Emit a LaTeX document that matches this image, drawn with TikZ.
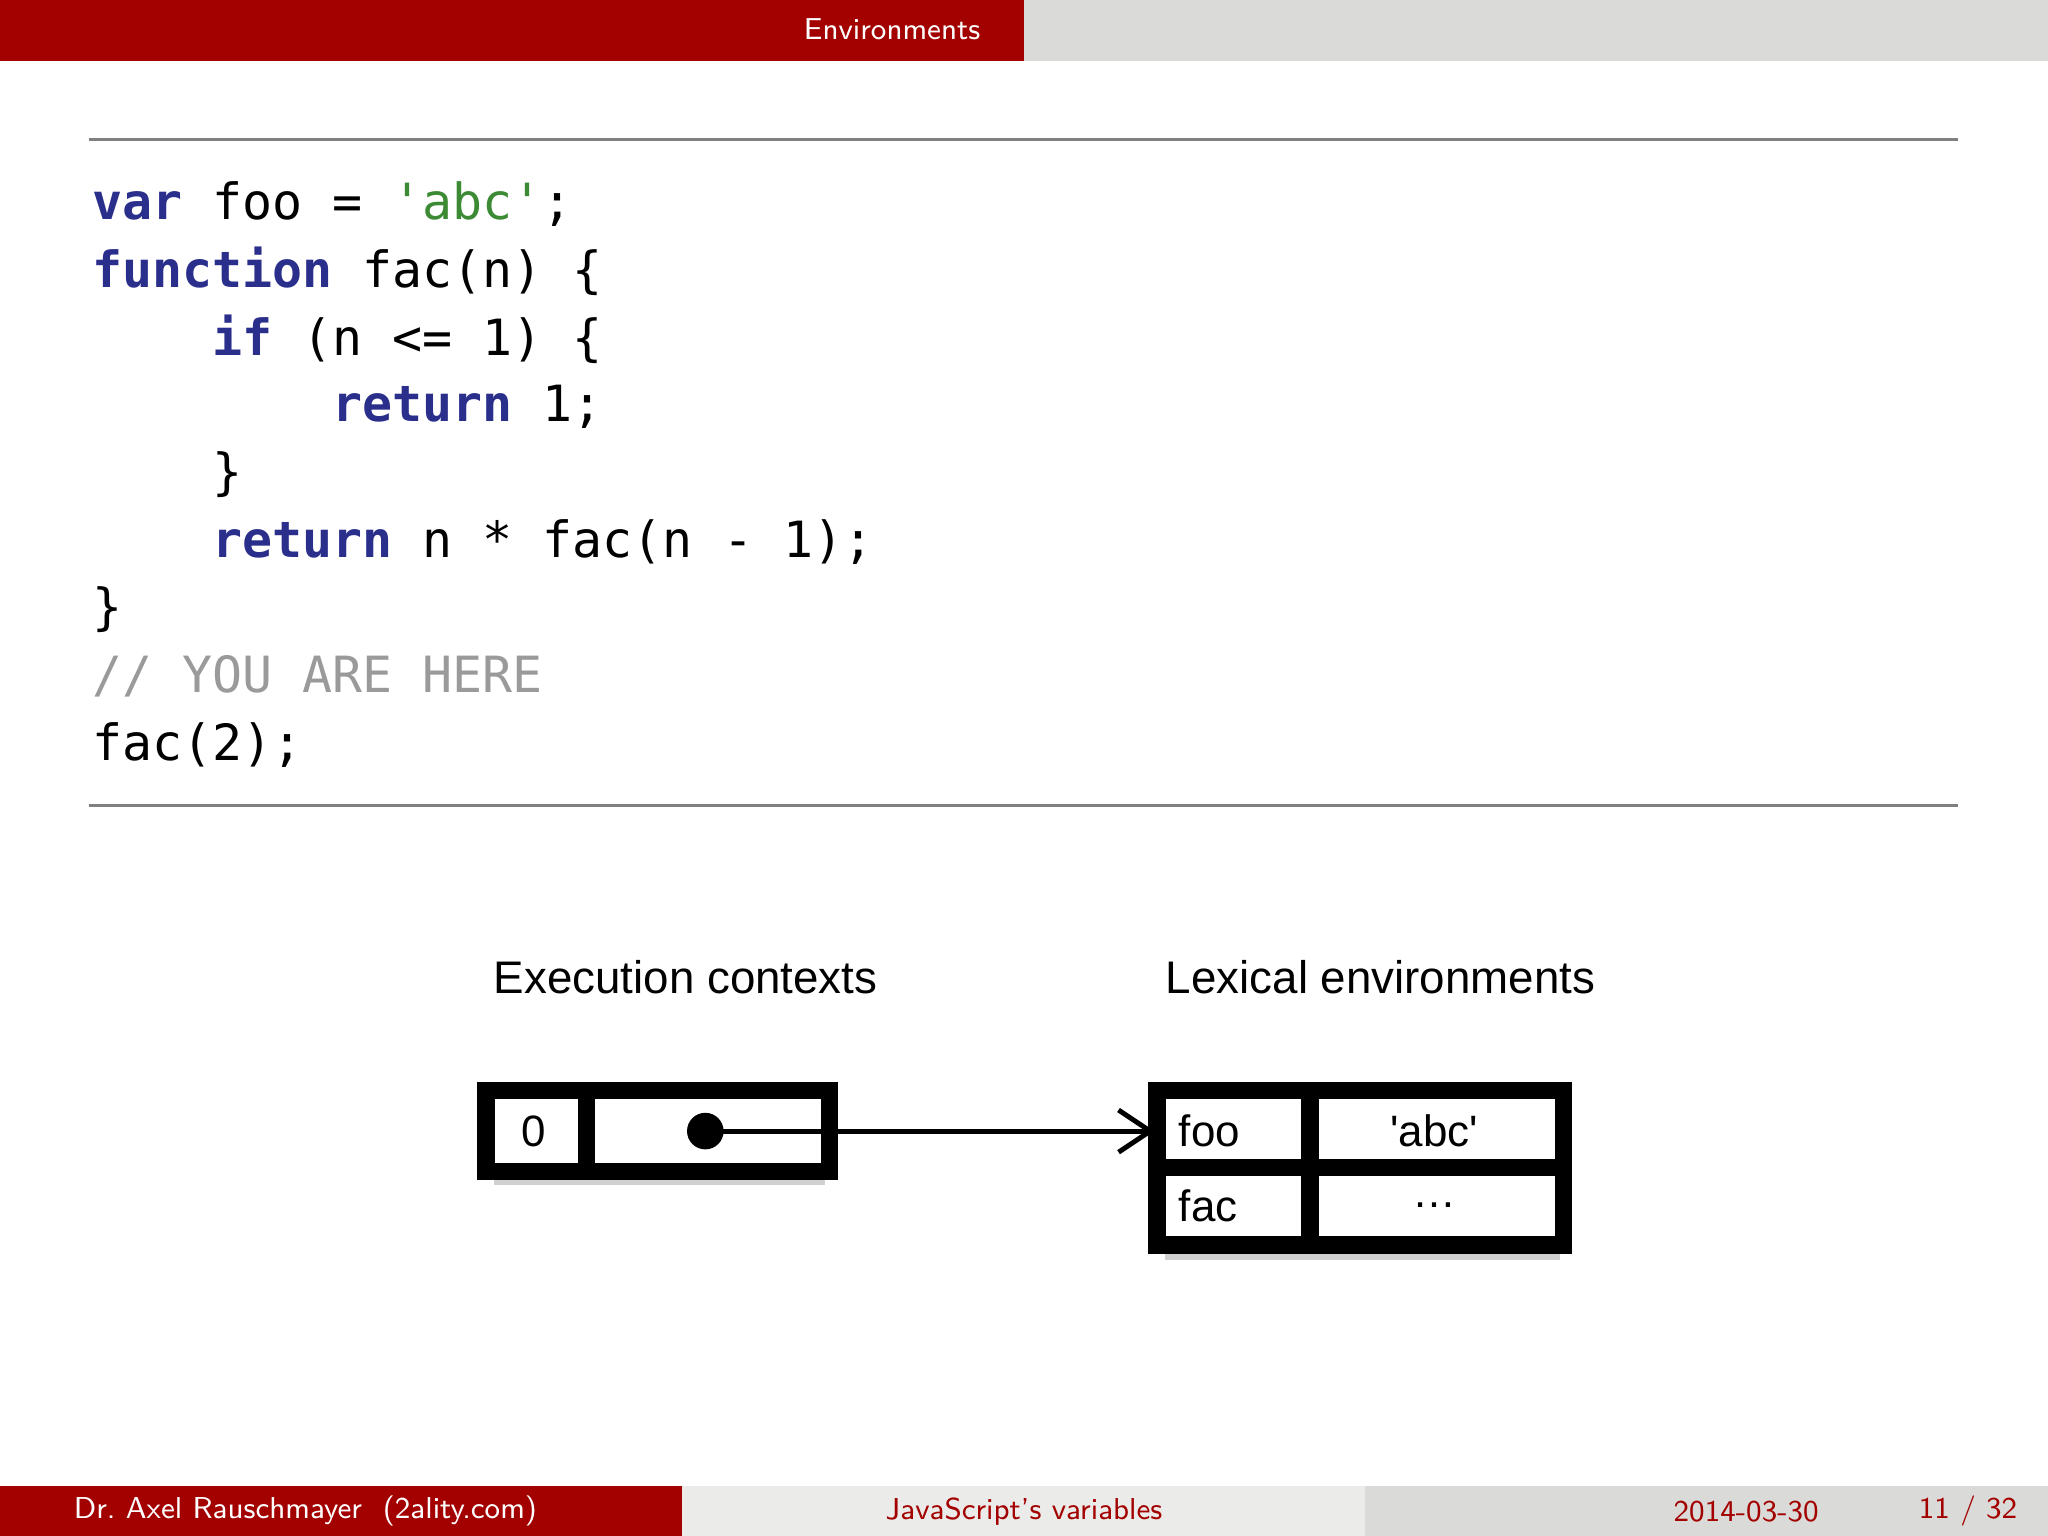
\documentclass[tikz,border=0pt]{standalone}
\usepackage{fontspec}
\setmonofont{DejaVu Sans Mono}
\newfontfamily\helv{Liberation Sans}
\usetikzlibrary{arrows.meta}
\definecolor{hdrred}{HTML}{A30000}
\definecolor{hdrgray}{HTML}{DADBD8}
\definecolor{ftgray}{HTML}{EBEBEA}
\definecolor{kw}{HTML}{2B2F8C}
\definecolor{str}{HTML}{3C8A34}
\definecolor{cmt}{HTML}{9A9A9A}
\newcommand{\kwd}[1]{{\bfseries\color{kw}#1}}
\begin{document}
\begin{tikzpicture}[x=0.01306cm,y=-0.01306cm,
  code/.style={anchor=base west,inner sep=0,font=\ttfamily\fontsize{14.2}{16}\selectfont},
  lbl/.style={font=\helv\fontsize{13}{15}\selectfont,inner sep=0},
  cell/.style={font=\helv\fontsize{12.5}{14}\selectfont,inner sep=0},
  hd/.style={font=\sffamily\fontsize{8.6}{10}\selectfont,inner sep=0},
  box/.style={draw=black,line width=5pt},
  sh/.style={fill=black,opacity=0.18}]
\useasboundingbox (0,0) rectangle (1568,1176);
% header
\fill[hdrred] (0,0) rectangle (784,47);
\fill[hdrgray] (784,0) rectangle (1568,47);
\node[hd,text=white] (title) at (683,22) {Environments};
% footer
\fill[hdrred] (0,1138) rectangle (522,1176);
\fill[ftgray] (522,1138) rectangle (1045,1176);
\fill[hdrgray] (1045,1138) rectangle (1568,1176);
\node[hd,text=white,anchor=west] (auth) at (56,1157) {Dr.\ Axel Rauschmayer\ \ (2ality.com)};
\node[hd,text=hdrred] (ftitle) at (784,1157) {JavaScript's variables};
\node[hd,text=hdrred,anchor=east] (date) at (1393,1157) {2014-03-30};
\node[hd,text=hdrred,anchor=east] (page) at (1545,1157) {11 / 32};
% rules
\draw[gray,line width=0.8pt] (68,107) -- (1499,107);
\draw[gray,line width=0.8pt] (68,617) -- (1499,617);
% code
\node[code] (l1) at (70,168) {\kwd{var} foo = {\color{str}'abc'};};
\node[code] (l2) at (70,220) {\kwd{function} fac(n) \{};
\node[code] (l3) at (162,272) {\kwd{if} (n <= 1) \{};
\node[code] (l4) at (254,323) {\kwd{return} 1;};
\node[code] (l5) at (162,375) {\}};
\node[code] (l6) at (162,427) {\kwd{return} n * fac(n - 1);};
\node[code] (l7) at (70,478) {\}};
\node[code,text=cmt] (l8) at (70,530) {// YOU ARE HERE};
\node[code] (l9) at (70,582) {fac(2);};
% diagram labels
\node[lbl] (ec) at (525,748) {Execution contexts};
\node[lbl] (le) at (1057,748) {Lexical environments};
% shadows
\fill[sh] (378,897) rectangle (632,907);
\fill[sh] (892,953) rectangle (1194,965);
% box 1
\draw[box] (372,835) rectangle (635,897);
\draw[box] (449,835) -- (449,897);
\node[cell] (zero) at (409,866) {0};
\fill (540,866) circle (14) coordinate (dot);
% box 2
\draw[box] (886,835) rectangle (1197,953);
\draw[box] (1003,835) -- (1003,953);
\draw[box] (886,894) -- (1197,894);
\coordinate (tgt) at (884,866);
\node[cell,anchor=west] (foo) at (902,866) {foo};
\node[cell] (abc) at (1098,866) {'abc'};
\node[cell,anchor=west] (fac) at (902,923) {fac};
\node[cell] (dots) at (1098,923) {\dots};
\draw[line width=1.4pt,-{Straight Barb[length=9pt,width=12pt]}] (dot) -- (tgt);
\end{tikzpicture}
\end{document}
